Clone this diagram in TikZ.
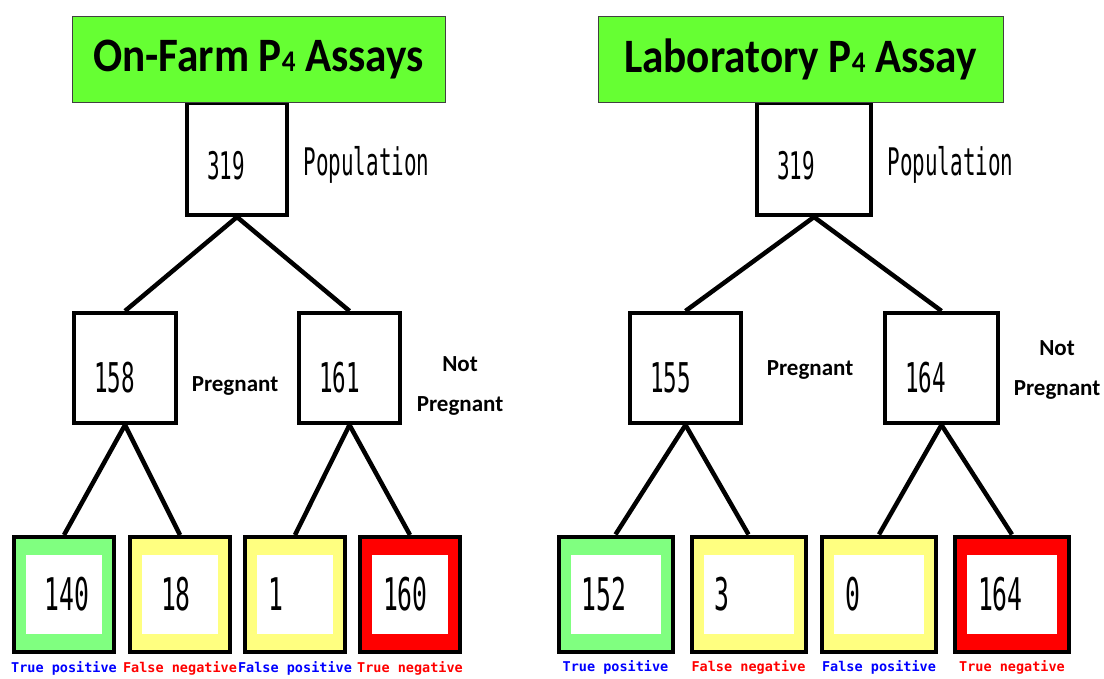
\documentclass[tikz,border=0pt]{standalone}
\usepackage{fontspec}
\setmainfont{Carlito}
\newfontfamily\numfont[FakeStretch=0.55]{DejaVu Sans Mono}
\newfontfamily\pixfont{DejaVu Sans Mono}
\newfontfamily\titlefont[FakeStretch=0.9]{Carlito}
\usetikzlibrary{positioning}
\definecolor{titlegreen}{RGB}{102,255,51}
\definecolor{tpgreen}{RGB}{128,255,128}
\definecolor{fyellow}{RGB}{255,255,128}
\definecolor{tnred}{RGB}{255,0,0}

\begin{document}
\begin{tikzpicture}[x=1pt,y=-1pt,
    title/.style={draw=black!75, line width=1pt, fill=titlegreen, minimum height=86pt,
        font=\titlefont\bfseries\fontsize{48}{50}\selectfont},
    popbox/.style={draw, line width=4pt, fill=white, inner xsep=20pt, align=left,
        minimum height=112pt, text height=42pt, font=\numfont\fontsize{38}{40}\selectfont},
    midbox/.style={draw, line width=4pt, fill=white, inner xsep=20pt, align=left,
        minimum height=110pt, text height=49pt, font=\numfont\fontsize{41}{44}\selectfont},
    leaf/.style={draw, line width=4pt, fill=#1, inner xsep=23pt, align=left,
        minimum height=115pt, font=\numfont\fontsize{45}{48}\selectfont,
        path picture={\fill[white] ([shift={(12pt,-18pt)}]path picture bounding box.north west)
            rectangle ([shift={(-12pt,18pt)}]path picture bounding box.south east);}},
    conn/.style={line width=4.5pt},
    poptext/.style={yshift=-6pt, font=\numfont\fontsize{38}{40}\selectfont},
    statetext/.style={align=center, font=\bfseries\fontsize{23}{40}\selectfont},
    lab/.style={font=\pixfont\bfseries\fontsize{13.5}{14}\selectfont, inner sep=0pt},
    poslab/.style={lab, text=blue},
    neglab/.style={lab, text=tnred}]
    \fill[white] (0,0) rectangle (1104,679);
    \useasboundingbox (0,0) rectangle (1104,679);

    % on-farm assays
    \node[popbox, text width=60pt] (popL) at (237,159) {319};
    \node[title, minimum width=373pt] (titleL) at (258.5,59.5) {On-Farm P{\fontsize{30}{30}\selectfont 4} Assays};
    \node[poptext, right=11pt of popL] (popLtxt) {Population};
    \node[midbox, text width=62pt] (pregL) at (125,368) {158};
    \node[midbox, text width=61pt] (npregL) at (349.5,368) {161};
    \node[statetext] (pregLtxt) at (235,386) {Pregnant};
    \node[statetext] (npregLtxt) at (460,386) {Not\\Pregnant};
    \node[leaf=tpgreen, inner xsep=31pt, text width=38pt] (tpL) at (64,594.5) {140};
    \node[leaf=fyellow, inner xsep=31pt, text width=38pt] (fnL) at (180,594.5) {18};
    \node[leaf=fyellow, text width=54pt] (fpL) at (295,594.5) {1};
    \node[leaf=tnred, text width=54pt] (tnL) at (410,594.5) {160};
    \node[poslab, below=7pt of tpL] (tpLtxt) {True positive};
    \node[neglab, below=7pt of fnL] (fnLtxt) {False negative};
    \node[poslab, below=7pt of fpL] (fpLtxt) {False positive};
    \node[neglab, below=7pt of tnL] (tnLtxt) {True negative};
    \draw[conn] (popL.south) -- (pregL.north);
    \draw[conn] (popL.south) -- (npregL.north);
    \draw[conn] (pregL.south) -- (tpL.north);
    \draw[conn] (pregL.south) -- (fnL.north);
    \draw[conn] (npregL.south) -- (fpL.north);
    \draw[conn] (npregL.south) -- (tnL.north);

    % laboratory assay
    \node[popbox, text width=74pt] (popR) at (814,159) {319};
    \node[title, minimum width=405pt] (titleR) at (800.5,59.5) {Laboratory P{\fontsize{30}{30}\selectfont 4} Assay};
    \node[poptext, right=11pt of popR] (popRtxt) {Population};
    \node[midbox, text width=71pt] (pregR) at (685.5,368) {155};
    \node[midbox, text width=73pt] (npregR) at (941.5,368) {164};
    \node[statetext] (pregRtxt) at (810,370) {Pregnant};
    \node[statetext] (npregRtxt) at (1057,370) {Not\\Pregnant};
    \node[leaf=tpgreen, text width=68pt] (tpR) at (615.5,594) {152};
    \node[leaf=fyellow, text width=68pt] (fnR) at (748.5,594) {3};
    \node[leaf=fyellow, text width=68pt] (fpR) at (879,594) {0};
    \node[leaf=tnred, text width=68pt] (tnR) at (1012,594) {164};
    \node[poslab, below=7pt of tpR] (tpRtxt) {True positive};
    \node[neglab, below=7pt of fnR] (fnRtxt) {False negative};
    \node[poslab, below=7pt of fpR] (fpRtxt) {False positive};
    \node[neglab, below=7pt of tnR] (tnRtxt) {True negative};
    \draw[conn] (popR.south) -- (pregR.north);
    \draw[conn] (popR.south) -- (npregR.north);
    \draw[conn] (pregR.south) -- (tpR.north);
    \draw[conn] (pregR.south) -- (fnR.north);
    \draw[conn] (npregR.south) -- (fpR.north);
    \draw[conn] (npregR.south) -- (tnR.north);
\end{tikzpicture}
\end{document}
